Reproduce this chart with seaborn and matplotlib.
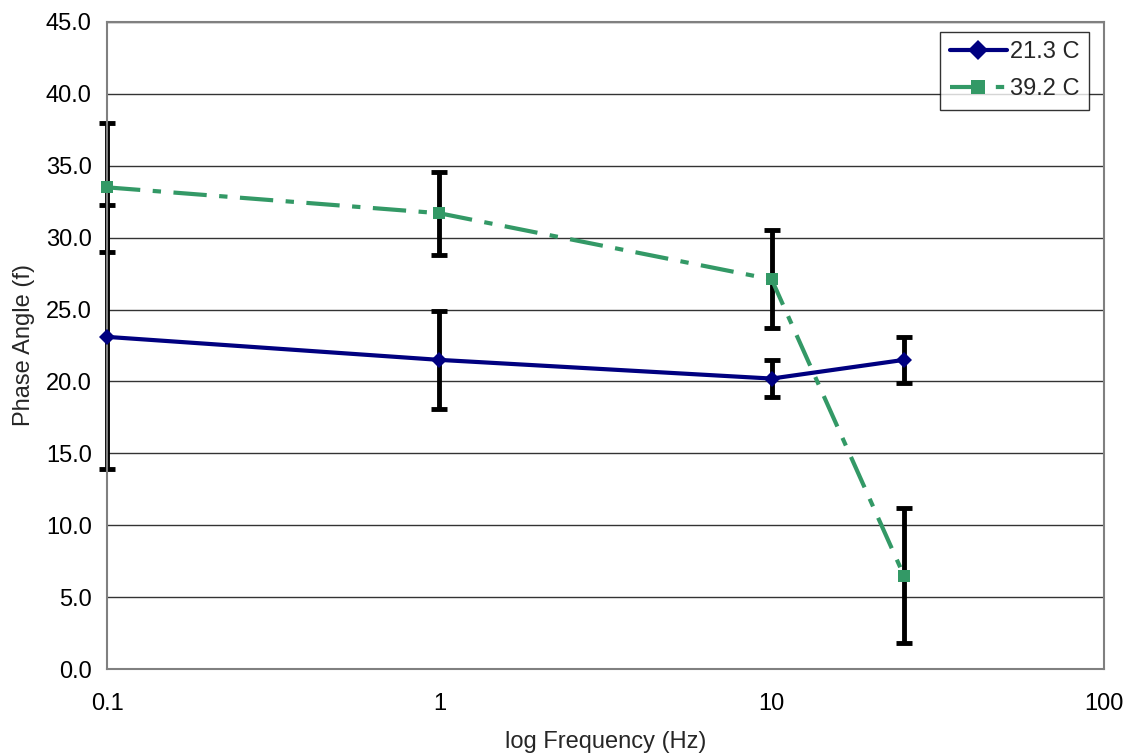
import numpy as np
import pandas as pd
import matplotlib
matplotlib.use("Agg")
import matplotlib.pyplot as plt
import seaborn as sns

# Measured phase angle vs frequency at two temperatures
freq = [0.1, 1, 10, 25]
phase_21 = [23.1, 21.5, 20.2, 21.5]
err_21 = [9.2, 3.4, 1.3, 1.6]
phase_39 = [33.5, 31.7, 27.1, 6.5]
err_39 = [4.5, 2.9, 3.4, 4.7]
series_names = ["21.3 C", "39.2 C"]

df = pd.DataFrame({
    "freq": freq * 2,
    "phase": phase_21 + phase_39,
    "err": err_21 + err_39,
    "series": [series_names[0]] * len(freq) + [series_names[1]] * len(freq),
})

sns.set_theme(style="white")
plt.rcParams["font.family"] = ["Liberation Sans", "DejaVu Sans"]

fig = plt.figure(figsize=(11.35, 7.56), dpi=100)
ax = fig.add_axes([107 / 1135, 1 - 669 / 756, (1104 - 107) / 1135, (669 - 22) / 756])

# error bars first, in black
for name in series_names:
    sub = df[df["series"] == name]
    eb = ax.errorbar(sub["freq"], sub["phase"], yerr=sub["err"], fmt="none",
                     ecolor="black", elinewidth=3.5, capsize=6, capthick=3.5, zorder=2)
    for art in eb.lines[1] + eb.lines[2]:
        art.set_clip_on(False)

palette = {series_names[0]: "#000080", series_names[1]: "#339966"}
sns.lineplot(data=df, x="freq", y="phase", hue="series", style="series",
             palette=palette,
             markers={series_names[0]: "D", series_names[1]: "s"},
             dashes={series_names[0]: "", series_names[1]: (8, 3, 2, 3)},
             linewidth=3, markersize=8, markeredgewidth=0, ax=ax, zorder=3)
for ln in ax.get_lines():
    ln.set_clip_on(False)

ax.set_xscale("log")
ax.set_xlim(0.1, 100)
ax.set_ylim(0, 45)
ax.set_xticks([0.1, 1, 10, 100])
ax.set_xticklabels(["0.1", "1", "10", "100"])
ax.minorticks_off()
ax.set_yticks(np.arange(0, 46, 5))
ax.set_yticklabels([f"{v:.1f}" for v in np.arange(0, 46, 5)])
ax.yaxis.grid(True, color="#333333", linewidth=1)
ax.xaxis.grid(False)
ax.set_axisbelow(True)
for side in ["left", "bottom", "top", "right"]:
    ax.spines[side].set_color("#808080")
    ax.spines[side].set_linewidth(1.5)
ax.tick_params(axis="both", which="major", direction="out", length=5, width=1,
               color="#808080", labelsize=17, labelcolor="black", pad=6)
ax.tick_params(axis="x", pad=12)
ax.set_xlabel("log Frequency (Hz)", fontsize=17, labelpad=12)
ax.set_ylabel("Phase Angle (f)", fontsize=17, labelpad=8)

leg = ax.legend(loc="upper right", bbox_to_anchor=(0.985, 0.985), fontsize=17,
                frameon=True, fancybox=False, edgecolor="black",
                handlelength=2.4, borderpad=0.4, labelspacing=0.65,
                handletextpad=0.15, borderaxespad=0.0, markerscale=1.3)
leg.get_frame().set_linewidth(1)
leg.set_title(None)

fig.savefig("out.png", dpi=100, facecolor="white")
